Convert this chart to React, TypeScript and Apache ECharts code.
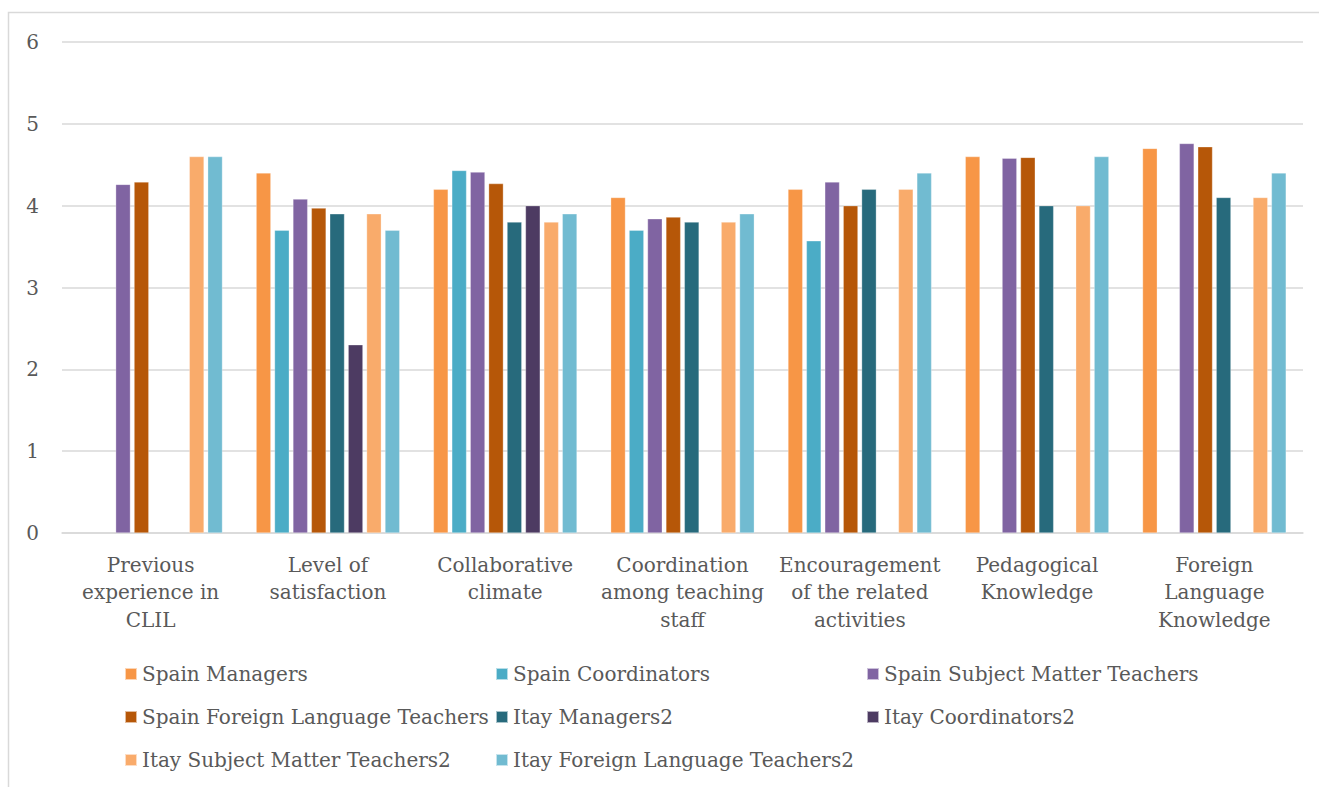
import React, { useEffect, useRef } from "react";
import * as echarts from "echarts";

const categories = [
  "Previous\nexperience in\nCLIL",
  "Level of\nsatisfaction",
  "Collaborative\nclimate",
  "Coordination\namong teaching\nstaff",
  "Encouragement\nof the related\nactivities",
  "Pedagogical\nKnowledge",
  "Foreign\nLanguage\nKnowledge",
];

const seriesNames = [
  "Spain Managers",
  "Spain Coordinators",
  "Spain Subject Matter Teachers",
  "Spain Foreign Language Teachers",
  "Itay Managers2",
  "Itay Coordinators2",
  "Itay Subject Matter Teachers2",
  "Itay Foreign Language Teachers2",
];

const spainManagers = [null, 4.4, 4.2, 4.1, 4.2, 4.6, 4.7];
const spainCoordinators = [null, 3.7, 4.43, 3.7, 3.57, null, null];
const spainSubjectMatter = [4.26, 4.08, 4.41, 3.84, 4.29, 4.58, 4.76];
const spainForeignLanguage = [4.29, 3.97, 4.27, 3.86, 4.0, 4.59, 4.72];
const itayManagers = [null, 3.9, 3.8, 3.8, 4.2, 4.0, 4.1];
const itayCoordinators = [null, 2.3, 4.0, null, null, null, null];
const itaySubjectMatter = [4.6, 3.9, 3.8, 3.8, 4.2, 4.0, 4.1];
const itayForeignLanguage = [4.6, 3.7, 3.9, 3.9, 4.4, 4.6, 4.4];

const seriesValues = [
  spainManagers,
  spainCoordinators,
  spainSubjectMatter,
  spainForeignLanguage,
  itayManagers,
  itayCoordinators,
  itaySubjectMatter,
  itayForeignLanguage,
];

const colors = [
  "#F79646",
  "#4BACC6",
  "#8064A2",
  "#B65708",
  "#276A7C",
  "#4D3B62",
  "#F9AB6B",
  "#71BBD1",
];

const legendRows = [
  [seriesNames[0], seriesNames[1], seriesNames[2]],
  [seriesNames[3], seriesNames[4], seriesNames[5]],
  [seriesNames[6], seriesNames[7]],
];

const FONT = "DejaVu Serif";
const TEXT = "#595959";
const GRID = "#d9d9d9";

export default function App() {
  const ref = useRef<HTMLDivElement>(null);

  useEffect(() => {
    if (!ref.current) return;
    const chart = echarts.init(ref.current, undefined, { renderer: "svg" });
    const legendTops = [661, 704, 747];
    chart.setOption({
      animation: false,
      color: colors,
      textStyle: { fontFamily: FONT },
      graphic: [
        {
          type: "rect",
          shape: { x: 8.5, y: 12.5, width: 1400, height: 900 },
          style: { fill: "none", stroke: GRID, lineWidth: 1.5 },
          silent: true,
        },
      ],
      grid: { left: 62, right: 16, top: 42, bottom: 254, containLabel: false },
      legend: legendRows.map((row, i) => ({
        data: row,
        top: legendTops[i],
        left: 124,
        padding: 0,
        itemGap: 0,
        itemWidth: 12,
        itemHeight: 12,
        icon: "rect",
        orient: "horizontal",
        textStyle: {
          fontFamily: FONT,
          fontSize: 20,
          color: TEXT,
          width: 353,
          overflow: "none",
          lineHeight: 26,
        },
      })),
      xAxis: {
        type: "category",
        data: categories,
        axisLine: { lineStyle: { color: GRID, width: 1.5 } },
        axisTick: { show: false },
        axisLabel: {
          interval: 0,
          margin: 18,
          color: TEXT,
          fontFamily: FONT,
          fontSize: 20,
          lineHeight: 27.5,
        },
      },
      yAxis: {
        type: "value",
        min: 0,
        max: 6,
        interval: 1,
        axisLine: { show: false },
        axisTick: { show: false },
        splitLine: { lineStyle: { color: GRID, width: 1.5 } },
        axisLabel: {
          margin: 23,
          color: TEXT,
          fontFamily: FONT,
          fontSize: 20,
        },
      },
      series: seriesNames.map((name, i) => ({
        name,
        type: "bar",
        data: seriesValues[i],
        barGap: "25%",
        barCategoryGap: "19%",
        itemStyle: { color: colors[i], borderColor: "rgba(255,255,255,0.6)", borderWidth: 0.5 },
      })),
    });
    return () => chart.dispose();
  }, []);

  return (
    <div
      ref={ref}
      style={{ position: "fixed", left: 0, top: 0, width: 1319, height: 787, background: "#fff" }}
    />
  );
}
